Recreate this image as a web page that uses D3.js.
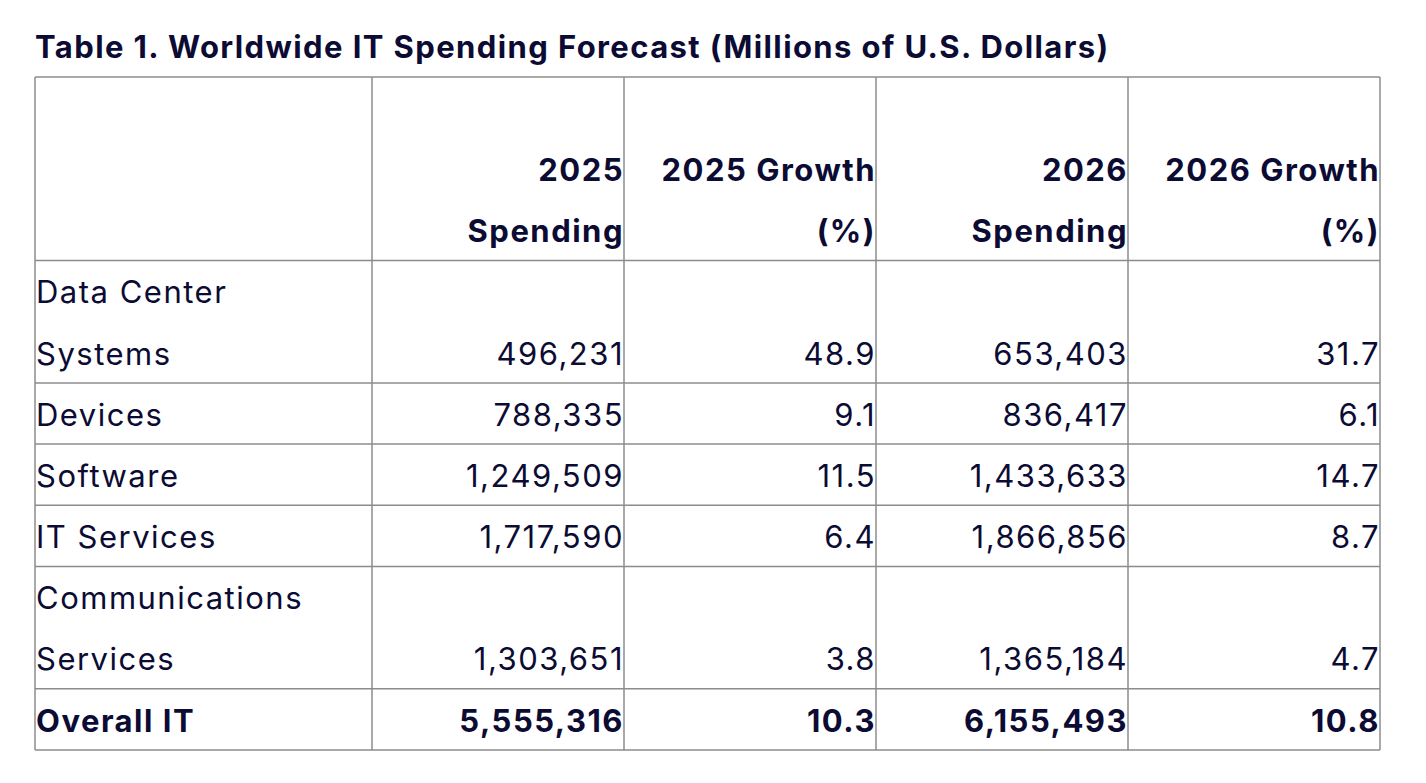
<!DOCTYPE html>
<html>
<head>
<meta charset="utf-8">
<script src="https://cdn.jsdelivr.net/npm/d3@7"></script>
<style>
  body { margin: 0; background: #fff; }
  text { font-family: Inter, "Noto Sans", sans-serif; fill: #0b0b33; }
</style>
</head>
<body>
<svg width="1426" height="783"></svg>
<script>
const titleText = 'Table 1. Worldwide IT Spending Forecast (Millions of U.S. Dollars)';
const headers = [[''], ['2025', 'Spending'], ['2025 Growth', '(%)'], ['2026', 'Spending'], ['2026 Growth', '(%)']];
const categories = [['Data Center', 'Systems'], ['Devices'], ['Software'], ['IT Services'], ['Communications', 'Services'], ['Overall IT']];
const spending2025 = ['496,231', '788,335', '1,249,509', '1,717,590', '1,303,651', '5,555,316'];
const growth2025 = ['48.9', '9.1', '11.5', '6.4', '3.8', '10.3'];
const spending2026 = ['653,403', '836,417', '1,433,633', '1,866,856', '1,365,184', '6,155,493'];
const growth2026 = ['31.7', '6.1', '14.7', '8.7', '4.7', '10.8'];

const svg = d3.select('svg');

// rows: header has one blank line on top
const rows = [{ lines: 3, cells: headers.map(h => h), bold: true }];
categories.forEach((c, i) => {
  rows.push({
    lines: c.length,
    cells: [c, [spending2025[i]], [growth2025[i]], [spending2026[i]], [growth2026[i]]],
    bold: i === categories.length - 1
  });
});
let acc = 0;
rows.forEach(r => { r.start = acc; acc += r.lines; });

const y = d3.scaleLinear().domain([0, acc]).range([77, 750]);
// column edges; first column is wider
const edges = [35, 372, 624, 876, 1128, 1380];

svg.append('text')
  .attr('x', 35).attr('y', 58)
  .attr('font-size', 31).attr('font-weight', 700)
  .attr('letter-spacing', 1.4)
  .text(titleText);

const g = svg.append('g');

// grid lines
g.selectAll('line.h').data(rows.map(r => r.start).concat([acc]))
  .enter().append('line')
  .attr('x1', edges[0]).attr('x2', edges[5])
  .attr('y1', d => y(d)).attr('y2', d => y(d))
  .attr('stroke', '#8c8c8c').attr('stroke-width', 1.5);

g.selectAll('line.v').data(edges)
  .enter().append('line')
  .attr('x1', d => d).attr('x2', d => d)
  .attr('y1', y(0)).attr('y2', y(acc))
  .attr('stroke', '#8c8c8c').attr('stroke-width', 1.5);

const lineH = y(1) - y(0);

rows.forEach(r => {
  r.cells.forEach((cell, ci) => {
    // text sits on the bottom lines of the row
    const first = r.start + r.lines - cell.length;
    cell.forEach((t, li) => {
      g.append('text')
        .attr('x', ci === 0 ? edges[0] + 1 : edges[ci + 1])
        .attr('y', y(first + li) + lineH * 0.7)
        .attr('text-anchor', ci === 0 ? 'start' : 'end')
        .attr('font-size', 31)
        .attr('letter-spacing', 1.5)
        .attr('font-weight', r.bold ? 700 : 400)
        .text(t);
    });
  });
});
</script>
</body>
</html>
